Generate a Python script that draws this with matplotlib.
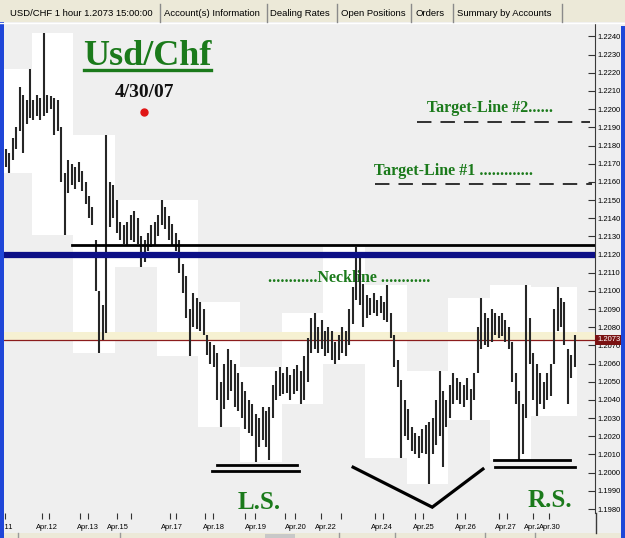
import matplotlib
matplotlib.use("Agg")
import matplotlib.pyplot as plt
import matplotlib.transforms as mtransforms
from matplotlib.patches import Rectangle
from matplotlib.lines import Line2D

# ---- data (2-hour bars, USD/CHF) ----
bar_high = [
    1.2178, 1.2176, 1.2184, 1.2190, 1.2212, 1.2208, 1.2205, 1.2222, 1.2205, 1.2208,
    1.2206, 1.2242, 1.2208, 1.2207, 1.2206, 1.2205, 1.2190, 1.2165, 1.2172, 1.2170,
    1.2168, 1.2171, 1.2166, 1.2160, 1.2152, 1.2146, 1.2128, 1.2100, 1.2092, 1.2186,
    1.2160, 1.2158, 1.2150, 1.2138, 1.2136, 1.2138, 1.2142, 1.2144, 1.2140, 1.2130,
    1.2128, 1.2132, 1.2136, 1.2138, 1.2142, 1.2150, 1.2146, 1.2141, 1.2137, 1.2132,
    1.2128, 1.2115, 1.2108, 1.2090, 1.2099, 1.2096, 1.2094, 1.2090, 1.2076, 1.2072,
    1.2070, 1.2066, 1.2050, 1.2060, 1.2068, 1.2062, 1.2060, 1.2055, 1.2050, 1.2045,
    1.2040, 1.2038, 1.2032, 1.2030, 1.2036, 1.2034, 1.2036, 1.2048, 1.2056, 1.2058,
    1.2055, 1.2058, 1.2054, 1.2057, 1.2059, 1.2056, 1.2064, 1.2074, 1.2085, 1.2088,
    1.2080, 1.2084, 1.2078, 1.2080, 1.2078, 1.2072, 1.2076, 1.2080, 1.2078, 1.2090,
    1.2102, 1.2124, 1.2118, 1.2104, 1.2098, 1.2096, 1.2099, 1.2095, 1.2097, 1.2094,
    1.2103, 1.2088, 1.2076, 1.2062, 1.2051, 1.2040, 1.2035, 1.2025, 1.2022, 1.2020,
    1.2024, 1.2026, 1.2028, 1.2030, 1.2040, 1.2056, 1.2045, 1.2040, 1.2048, 1.2055,
    1.2052, 1.2050, 1.2048, 1.2052, 1.2046, 1.2055, 1.2080, 1.2096, 1.2088, 1.2085,
    1.2090, 1.2088, 1.2086, 1.2088, 1.2084, 1.2080, 1.2072, 1.2055, 1.2045, 1.2038,
    1.2103, 1.2085, 1.2066, 1.2060, 1.2055, 1.2050, 1.2055, 1.2060, 1.2090, 1.2102,
    1.2096, 1.2094, 1.2068, 1.2065, 1.2076,
]
bar_low = [
    1.2168, 1.2165, 1.2172, 1.2178, 1.2188, 1.2176, 1.2192, 1.2195, 1.2194, 1.2196,
    1.2194, 1.2196, 1.2198, 1.2200, 1.2186, 1.2188, 1.2160, 1.2131, 1.2154, 1.2158,
    1.2156, 1.2160, 1.2155, 1.2148, 1.2140, 1.2136, 1.2100, 1.2066, 1.2073, 1.2077,
    1.2135, 1.2140, 1.2132, 1.2128, 1.2126, 1.2125, 1.2128, 1.2127, 1.2126, 1.2113,
    1.2116, 1.2122, 1.2124, 1.2125, 1.2130, 1.2136, 1.2134, 1.2128, 1.2125, 1.2122,
    1.2110, 1.2099, 1.2085, 1.2064, 1.2080, 1.2079, 1.2078, 1.2076, 1.2065, 1.2060,
    1.2058, 1.2040, 1.2025, 1.2035, 1.2040, 1.2045, 1.2036, 1.2034, 1.2030, 1.2024,
    1.2022, 1.2020, 1.2006, 1.2014, 1.2018, 1.2014, 1.2007, 1.2030, 1.2040, 1.2042,
    1.2043, 1.2044, 1.2040, 1.2043, 1.2045, 1.2038, 1.2040, 1.2050, 1.2066, 1.2068,
    1.2066, 1.2068, 1.2064, 1.2066, 1.2062, 1.2060, 1.2062, 1.2066, 1.2064, 1.2070,
    1.2082, 1.2095, 1.2092, 1.2080, 1.2085, 1.2087, 1.2088, 1.2086, 1.2088, 1.2084,
    1.2083, 1.2074, 1.2058, 1.2047, 1.2008, 1.2020, 1.2018, 1.2012, 1.2010, 1.2008,
    1.2011, 1.2010, 1.1994, 1.2010, 1.2015, 1.2020, 1.2003, 1.2025, 1.2030, 1.2038,
    1.2040, 1.2038, 1.2036, 1.2040, 1.2029, 1.2040, 1.2055, 1.2068, 1.2070, 1.2069,
    1.2072, 1.2076, 1.2074, 1.2075, 1.2072, 1.2068, 1.2050, 1.2038, 1.2007, 1.2010,
    1.2030, 1.2060, 1.2040, 1.2031, 1.2038, 1.2035, 1.2040, 1.2042, 1.2060, 1.2078,
    1.2080, 1.2070, 1.2038, 1.2052, 1.2058,
]
last_price = 1.2073

# first bar of each trading session (white day-range boxes)
session_starts = [0, 8, 20, 32, 44, 56, 68, 80, 92, 104, 116, 128, 140, 152, 165]

date_labels = ["Apr.11", "Apr.12", "Apr.13", "Apr.15", "Apr.17", "Apr.18", "Apr.19",
               "Apr.20", "Apr.22", "Apr.24", "Apr.25", "Apr.26", "Apr.27", "Apr.29", "Apr.30"]
date_label_pos = [-0.8, 11.9, 23.7, 32.4, 47.9, 60.0, 72.1, 83.7, 92.3, 108.4,
                  120.5, 132.6, 144.2, 152.6, 156.9]
date_tick_pos = [-0.2, 10.5, 12.5, 21.4, 23.7, 32.1, 36.1, 47.3, 49.1, 57.4, 59.7,
                 69.0, 71.8, 80.5, 83.4, 90.9, 96.6, 106.4, 108.7, 118.0, 120.3,
                 130.1, 132.4, 142.2, 144.5, 151.9, 156.6]
price_ticks = [1.1980 + k * 0.001 for k in range(27)]

# hand-drawn analysis lines
neckline_top = 1.2125      # black
neckline_blue = 1.2120     # navy
target_1 = 1.2159
target_2 = 1.2193
ls_levels = [(60.9, 84.0, 1.2004), (59.5, 84.5, 1.2001)]
rs_levels = [(140.7, 162.6, 1.2007), (141.0, 164.0, 1.2003)]
head_v_x = [100.1, 122.9, 137.5]
head_v_y = [1.2003, 1.1981, 1.2002]

W, H = 625, 538
GREEN = "#1b7a1b"
BG = "#efefef"
BEIGE = "#ece9d8"

fig = plt.figure(figsize=(W / 100, H / 100), dpi=100)
fig.patch.set_facecolor(BG)
ax = fig.add_axes([4 / W, 1 - 513 / H, 591 / W, 490 / H])
ax.set_facecolor(BG)
ax.set_xlim(-0.5, 169.8)
ax.set_ylim(1.19778, 1.22474)

# day range boxes
for s, e in zip(session_starts[:-1], session_starts[1:]):
    hi = max(bar_high[s:e])
    lo = min(bar_low[s:e])
    ax.add_patch(Rectangle((s - 0.5, lo), e - s, hi - lo, facecolor="white",
                           edgecolor="none", zorder=1))

ax.axhspan(last_price, last_price + 0.00045, color="#f6f1d2", zorder=1.5, lw=0)

# price bars
ax.vlines(range(len(bar_high)), bar_low, bar_high, color="#262626", lw=1.5, zorder=3)

# horizontal lines
ax.axhline(last_price, color="#8b1c1c", lw=0.9, zorder=2)
ax.axhline(neckline_blue, color="#0c0f86", lw=4.5, zorder=4)
ax.plot([19.1, 169.8], [neckline_top, neckline_top], color="black", lw=2, zorder=4)
ax.plot([118.5, 168.4], [target_2, target_2], color="#222", lw=1.3,
        dashes=(8, 5), zorder=4)
ax.plot([106.4, 169.0], [target_1, target_1], color="#222", lw=1.3,
        dashes=(8, 5), zorder=4)
for x0, x1, y in ls_levels + rs_levels:
    ax.plot([x0, x1], [y, y], color="black", lw=2, zorder=4)
ax.plot(head_v_x, head_v_y, color="black", lw=2.3, zorder=4, solid_joinstyle="miter")

# texts
serif = "Liberation Serif"
ax.text(40.9, 1.22243, "Usd/Chf", fontsize=26, fontweight="bold", family=serif,
        color=GREEN, ha="center", va="baseline", zorder=5)
ax.plot([22.6, 59.2], [1.22218, 1.22218], color=GREEN, lw=2.4, zorder=5)
ax.text(40.0, 1.22067, "4/30/07", fontsize=14, fontweight="bold", family=serif,
        color="#111", ha="center", va="baseline", zorder=5)
ax.plot([39.9], [1.21987], "o", color="#e01515", ms=5, zorder=5)
ax.text(121.4, 1.21984, "Target-Line #2......", fontsize=11.5, fontweight="bold",
        family=serif, color=GREEN, ha="left", va="baseline", zorder=5)
ax.text(106.1, 1.21638, "Target-Line #1 .............", fontsize=11.5,
        fontweight="bold", family=serif, color=GREEN, ha="left", va="baseline", zorder=5)
ax.text(75.6, 1.21049, "............Neckline ............", fontsize=11.5,
        fontweight="bold", family=serif, color=GREEN, ha="left", va="baseline", zorder=2.5)
ax.text(73.0, 1.19799, "L.S.", fontsize=18, fontweight="bold", family=serif,
        color=GREEN, ha="center", va="baseline", zorder=5)
ax.text(156.7, 1.1981, "R.S.", fontsize=18, fontweight="bold", family=serif,
        color=GREEN, ha="center", va="baseline", zorder=5)

# axes styling
for side in ["top", "left", "bottom"]:
    ax.spines[side].set_visible(False)
ax.spines["right"].set_color("#3a3a3a")
ax.yaxis.tick_right()
ax.set_yticks(price_ticks)
ax.set_yticklabels([f"{v:.4f}" for v in price_ticks])
ax.tick_params(axis="y", direction="in", length=5, width=0.8, color="#333",
               labelsize=5.5, pad=2, labelfontfamily="Liberation Sans")
ax.set_xticks(date_tick_pos)
ax.set_xticklabels([])
ax.tick_params(axis="x", direction="out", length=4, width=0.8, color="#333")

trans = mtransforms.blended_transform_factory(ax.transData, ax.transAxes)
for pos, lab in zip(date_label_pos, date_labels):
    t = ax.text(pos, -0.029, lab, transform=trans, ha="center", va="center",
                fontsize=5.4, family="Liberation Sans", clip_on=False)
    if lab == "Apr.30":
        t.set_bbox(dict(facecolor=BG, edgecolor="none", pad=0.3))

ty = mtransforms.blended_transform_factory(ax.transAxes, ax.transData)
ax.text(1.0 + 2 / 591, last_price, f"{last_price:.4f}", transform=ty, ha="left",
        va="center", fontsize=5.5, color="white", family="Liberation Sans",
        clip_on=False, zorder=10,
        bbox=dict(boxstyle="square,pad=0.2", facecolor="#7a1212", edgecolor="none"))

# ---- window chrome ----
def fx(x):
    return x / W


def fy(y):
    return 1 - y / H


fig.add_artist(Rectangle((0, fy(22)), 1, 22 / H, transform=fig.transFigure,
                         facecolor=BEIGE, edgecolor="none"))
fig.add_artist(Line2D([0, 1], [fy(22.5), fy(22.5)], transform=fig.transFigure,
                      color="white", lw=1))
tab_edges = [160, 267, 337, 411, 453, 562]
for x in tab_edges:
    fig.add_artist(Line2D([fx(x), fx(x)], [fy(4), fy(22)], transform=fig.transFigure,
                          color="#8a8a8a", lw=1))
tabs = [(10, "USD/CHF 1 hour 1.2073 15:00:00"), (164, "Account(s) Information"),
        (270, "Dealing Rates"), (341, "Open Positions"), (416, "Orders"),
        (457, "Summary by Accounts")]
for x, lab in tabs:
    fig.text(fx(x), fy(13), lab, fontsize=6.8, family="Liberation Sans",
             ha="left", va="center")

fig.add_artist(Line2D([fx(595.5), fx(595.5)], [fy(513), fy(533)],
                      transform=fig.transFigure, color="#3a3a3a", lw=1))
fig.add_artist(Rectangle((0, 0), 1, 5 / H, transform=fig.transFigure,
                         facecolor=BEIGE, edgecolor="none"))
for x in [18, 120, 339, 395, 485, 535]:
    fig.add_artist(Line2D([fx(x), fx(x)], [0, 5 / H], transform=fig.transFigure,
                          color="#9a9a9a", lw=1))
fig.add_artist(Rectangle((fx(265), 0), 30 / W, 4 / H, transform=fig.transFigure,
                         facecolor="#c8c8c8", edgecolor="none"))
fig.add_artist(Rectangle((0, 0), 4 / W, fy(22), transform=fig.transFigure,
                         facecolor="#1f46d8", edgecolor="none"))
fig.add_artist(Rectangle((fx(621), 0), 4 / W, fy(26), transform=fig.transFigure,
                         facecolor="#1f46d8", edgecolor="none"))

fig.savefig("out.png", dpi=100, facecolor=fig.get_facecolor())
